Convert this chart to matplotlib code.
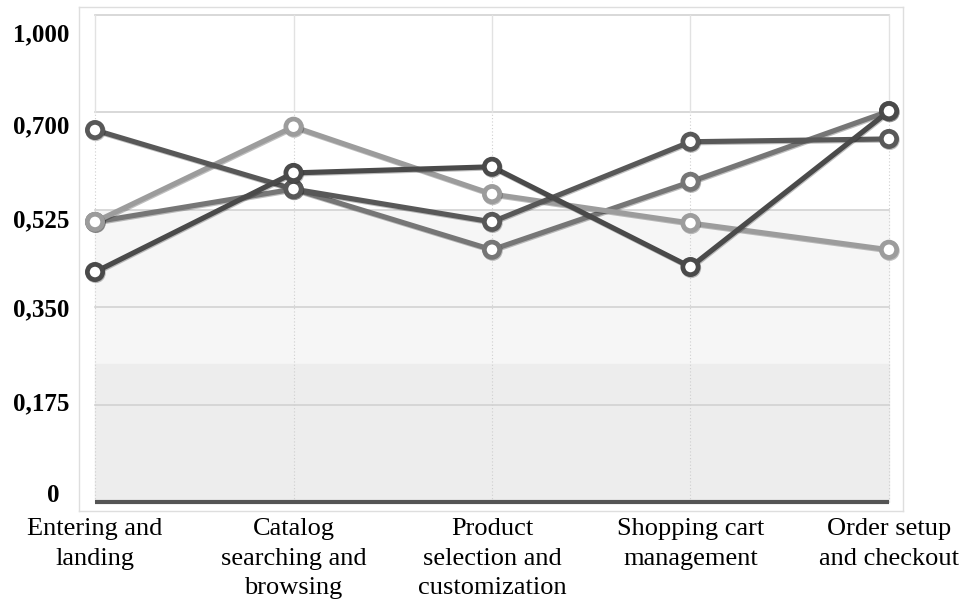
import matplotlib.pyplot as plt
import matplotlib.patheffects as pe
from matplotlib.transforms import ScaledTranslation

# Data
stages = ['Entering and\nlanding', 'Catalog\nsearching and\nbrowsing',
          'Product\nselection and\ncustomization', 'Shopping cart\nmanagement',
          'Order setup\nand checkout']
series_a = [0.668, 0.562, 0.503, 0.647, 0.652]
series_b = [0.503, 0.562, 0.453, 0.575, 0.702]
series_c = [0.503, 0.674, 0.553, 0.501, 0.453]
series_d = [0.413, 0.591, 0.602, 0.422, 0.702]
ytick_labels = ['0', '0,175', '0,350', '0,525', '0,700', '1,000']
grid_levels = [0.175, 0.35, 0.525, 0.7, 0.875]

plt.rcParams['font.family'] = ['Liberation Serif', 'DejaVu Serif']

fig = plt.figure(figsize=(9.6, 6.03), dpi=100)
ax = fig.add_axes([0.0823, 0.1526, 0.8583, 0.8358])

x = list(range(len(stages)))
ax.set_xlim(-0.0806, 4.0705)
ax.set_ylim(-0.0162, 0.889)

# background bands
ax.fill_between([0, 4], 0.525, 0.875, color='white', zorder=0)
ax.fill_between([0, 4], 0.248, 0.525, color='#f6f6f6', zorder=0)
ax.fill_between([0, 4], 0.0, 0.248, color='#ededed', zorder=0)

# grid
for lv in grid_levels:
    ax.plot([0, 4], [lv, lv], color='#d2d2d2', lw=1.2, zorder=1)
for xi in x:
    ax.plot([xi, xi], [0, 0.7], color='#cfcfcf', lw=0.8, ls=(0, (1, 2)), zorder=1)
    ax.plot([xi, xi], [0.7, 0.875], color='#e2e2e2', lw=1.0, zorder=1)
ax.plot([0, 4], [0, 0], color='#555555', lw=3, zorder=2, solid_capstyle='butt')

# series lines
styles = [(series_b, '#767676'), (series_c, '#9c9c9c'),
          (series_a, '#585858'), (series_d, '#4a4a4a')]
for vals, col in styles:
    ax.plot(x, vals, color=col, lw=3.7, marker='o', ms=11, mew=3.4,
            mfc='white', mec=col, zorder=3, clip_on=False,
            path_effects=[pe.SimpleLineShadow(offset=(0.5, -0.8), alpha=0.25, shadow_color='#000000'),
                          pe.Normal()])

# frame
for s in ax.spines.values():
    s.set_color('#dedede')
    s.set_linewidth(1.0)

ax.set_xticks(x)
ax.set_xticklabels(stages, fontsize=19, linespacing=1.45)
ax.tick_params(axis='x', length=0, pad=5)

ax.set_yticks([0.016, 0.180, 0.350, 0.510, 0.679, 0.843])
ax.set_yticklabels(ytick_labels, fontsize=18, fontweight='bold')
ax.tick_params(axis='y', length=0, pad=7)
zero_lbl = ax.get_yticklabels()[0]
zero_lbl.set_transform(zero_lbl.get_transform() + ScaledTranslation(-7 / 72, 0, fig.dpi_scale_trans))

fig.savefig('out.png', dpi=100)
